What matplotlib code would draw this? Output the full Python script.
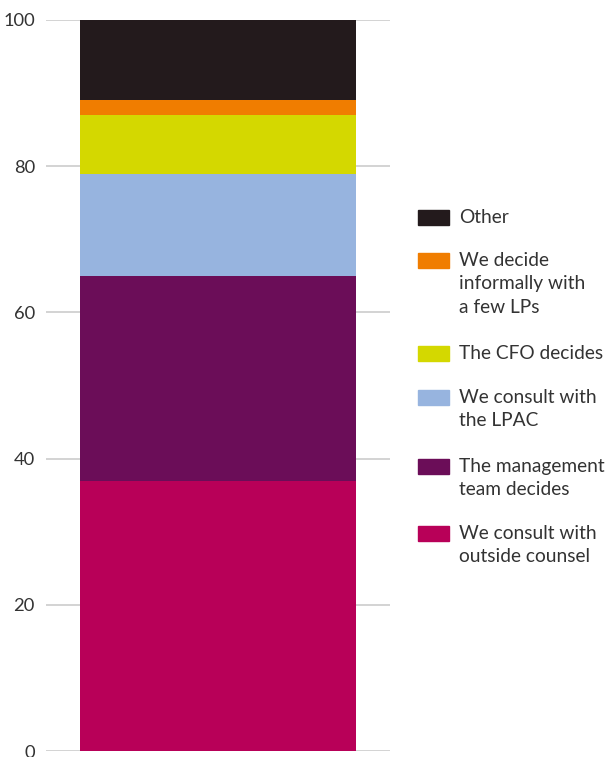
import matplotlib
matplotlib.use('Agg')
import matplotlib.pyplot as plt
from matplotlib.patches import Rectangle

# stacked shares, bottom to top
labels = [
    'We consult with\noutside counsel',
    'The management\nteam decides',
    'We consult with\nthe LPAC',
    'The CFO decides',
    'We decide\ninformally with\na few LPs',
    'Other',
]
shares = [37, 28, 14, 8, 2, 11]
colors = ['#b80058', '#6b0d58', '#97b4df', '#d4d800', '#f07d00', '#231a1c']
yticks = [0, 20, 40, 60, 80, 100]

plt.rcParams['font.family'] = ['Lato', 'DejaVu Sans']
TXT = '#333333'

W, H = 609, 757
fig = plt.figure(figsize=(W / 100, H / 100), dpi=100)
ax = fig.add_axes([46 / W, 1 - 751 / H, 344 / W, 731 / H])

bottom = 0
for s, c in zip(shares, colors):
    ax.bar(0, s, width=0.8, bottom=bottom, color=c, zorder=2)
    bottom += s

ax.set_xlim(-0.5, 0.5)
ax.set_ylim(0, 100)
ax.set_yticks(yticks)
ax.set_xticks([])
ax.yaxis.grid(True, color='#cccccc', linewidth=1.2, zorder=0)
for sp in ax.spines.values():
    sp.set_visible(False)
ax.tick_params(axis='y', length=0, pad=8, labelsize=13.2, labelcolor=TXT)

# legend drawn by hand so the swatch lines up with the first text line
entry_tops = [210, 253, 346, 390, 459, 526]
for lab, c, top in zip(labels[::-1], colors[::-1], entry_tops):
    fig.add_artist(Rectangle((418 / W, 1 - (top + 15) / H), 31 / W, 15 / H,
                             transform=fig.transFigure, color=c))
    fig.text(459 / W, 1 - (top - 1) / H, lab, ha='left', va='top',
             fontsize=13.8, color=TXT, linespacing=1.45)

fig.savefig('out.png', dpi=100)
